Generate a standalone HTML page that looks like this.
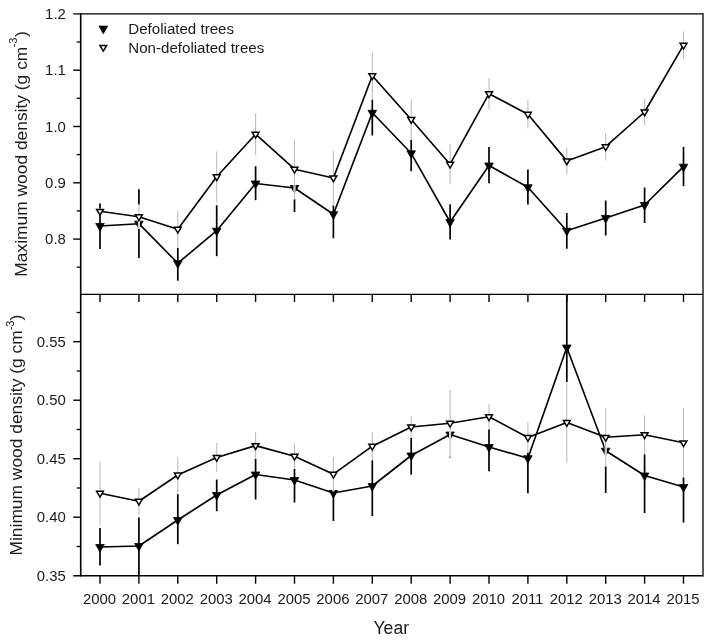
<!DOCTYPE html>
<html><head><meta charset="utf-8"><title>Wood density</title>
<style>html,body{margin:0;padding:0;background:#fff}svg{display:block}text{font-family:"Liberation Sans",Arial,sans-serif}</style>
</head><body>
<svg width="708" height="640" viewBox="0 0 708 640">
<rect x="0" y="0" width="708" height="640" fill="#fff"/>
<g><line x1="100.0" x2="100.0" y1="203.5" y2="208.8" stroke="#000" stroke-width="1.7"/>
<line x1="100.0" x2="100.0" y1="213.8" y2="249.0" stroke="#000" stroke-width="1.7"/>
<line x1="138.9" x2="138.9" y1="189.3" y2="204.7" stroke="#000" stroke-width="1.7"/>
<line x1="138.9" x2="138.9" y1="228.7" y2="258.0" stroke="#000" stroke-width="1.7"/>
<line x1="177.8" x2="177.8" y1="247.9" y2="280.7" stroke="#000" stroke-width="1.7"/>
<line x1="216.7" x2="216.7" y1="205.2" y2="256.2" stroke="#000" stroke-width="1.7"/>
<line x1="255.6" x2="255.6" y1="166.2" y2="200.2" stroke="#000" stroke-width="1.7"/>
<line x1="294.5" x2="294.5" y1="199.2" y2="212.0" stroke="#000" stroke-width="1.7"/>
<line x1="333.4" x2="333.4" y1="205.3" y2="238.2" stroke="#000" stroke-width="1.7"/>
<line x1="372.3" x2="372.3" y1="99.4" y2="135.5" stroke="#000" stroke-width="1.7"/>
<line x1="411.2" x2="411.2" y1="139.5" y2="171.2" stroke="#000" stroke-width="1.7"/>
<line x1="450.1" x2="450.1" y1="204.2" y2="239.5" stroke="#000" stroke-width="1.7"/>
<line x1="489.0" x2="489.0" y1="147.0" y2="183.3" stroke="#000" stroke-width="1.7"/>
<line x1="527.9" x2="527.9" y1="169.5" y2="204.5" stroke="#000" stroke-width="1.7"/>
<line x1="566.8" x2="566.8" y1="213.1" y2="248.7" stroke="#000" stroke-width="1.7"/>
<line x1="605.7" x2="605.7" y1="200.5" y2="235.5" stroke="#000" stroke-width="1.7"/>
<line x1="644.6" x2="644.6" y1="187.5" y2="223.0" stroke="#000" stroke-width="1.7"/>
<line x1="683.5" x2="683.5" y1="147.0" y2="186.2" stroke="#000" stroke-width="1.7"/>
<polyline fill="none" stroke="#000" stroke-width="1.65" stroke-linejoin="round" points="100.0,226.0 138.9,223.7 177.8,263.2 216.7,230.7 255.6,183.5 294.5,188.0 333.4,214.2 372.3,112.8 411.2,153.3 450.1,222.0 489.0,165.5 527.9,187.2 566.8,230.7 605.7,218.0 644.6,205.0 683.5,166.7"/>
<polygon points="95.7,223.5 104.3,223.5 100.0,231.1" fill="#000" stroke="#000" stroke-width="0.8"/>
<polygon points="134.6,221.2 143.2,221.2 138.9,228.8" fill="#000" stroke="#000" stroke-width="0.8"/>
<polygon points="173.5,260.7 182.1,260.7 177.8,268.3" fill="#000" stroke="#000" stroke-width="0.8"/>
<polygon points="212.4,228.2 221.0,228.2 216.7,235.8" fill="#000" stroke="#000" stroke-width="0.8"/>
<polygon points="251.3,181.0 259.9,181.0 255.6,188.6" fill="#000" stroke="#000" stroke-width="0.8"/>
<polygon points="290.2,185.5 298.8,185.5 294.5,193.1" fill="#000" stroke="#000" stroke-width="0.8"/>
<polygon points="329.1,211.7 337.7,211.7 333.4,219.3" fill="#000" stroke="#000" stroke-width="0.8"/>
<polygon points="368.0,110.3 376.6,110.3 372.3,117.9" fill="#000" stroke="#000" stroke-width="0.8"/>
<polygon points="406.9,150.8 415.5,150.8 411.2,158.4" fill="#000" stroke="#000" stroke-width="0.8"/>
<polygon points="445.8,219.5 454.4,219.5 450.1,227.1" fill="#000" stroke="#000" stroke-width="0.8"/>
<polygon points="484.7,163.0 493.3,163.0 489.0,170.6" fill="#000" stroke="#000" stroke-width="0.8"/>
<polygon points="523.6,184.7 532.2,184.7 527.9,192.3" fill="#000" stroke="#000" stroke-width="0.8"/>
<polygon points="562.5,228.2 571.1,228.2 566.8,235.8" fill="#000" stroke="#000" stroke-width="0.8"/>
<polygon points="601.4,215.5 610.0,215.5 605.7,223.1" fill="#000" stroke="#000" stroke-width="0.8"/>
<polygon points="640.3,202.5 648.9,202.5 644.6,210.1" fill="#000" stroke="#000" stroke-width="0.8"/>
<polygon points="679.2,164.2 687.8,164.2 683.5,171.8" fill="#000" stroke="#000" stroke-width="0.8"/>
<line x1="100.0" x2="100.0" y1="208.8" y2="213.8" stroke="#fff" stroke-width="2.1"/>
<line x1="100.0" x2="100.0" y1="208.8" y2="213.8" stroke="#bababa" stroke-width="1.05"/>
<line x1="138.9" x2="138.9" y1="204.7" y2="228.7" stroke="#fff" stroke-width="2.1"/>
<line x1="138.9" x2="138.9" y1="204.7" y2="228.7" stroke="#bababa" stroke-width="1.05"/>
<line x1="177.8" x2="177.8" y1="210.4" y2="247.9" stroke="#fff" stroke-width="2.1"/>
<line x1="177.8" x2="177.8" y1="210.4" y2="247.9" stroke="#bababa" stroke-width="1.05"/>
<line x1="216.7" x2="216.7" y1="151.2" y2="202.2" stroke="#fff" stroke-width="2.1"/>
<line x1="216.7" x2="216.7" y1="151.2" y2="202.2" stroke="#bababa" stroke-width="1.05"/>
<line x1="255.6" x2="255.6" y1="113.2" y2="155.2" stroke="#fff" stroke-width="2.1"/>
<line x1="255.6" x2="255.6" y1="113.2" y2="155.2" stroke="#bababa" stroke-width="1.05"/>
<line x1="294.5" x2="294.5" y1="139.2" y2="199.2" stroke="#fff" stroke-width="2.1"/>
<line x1="294.5" x2="294.5" y1="139.2" y2="199.2" stroke="#bababa" stroke-width="1.05"/>
<line x1="333.4" x2="333.4" y1="150.7" y2="205.3" stroke="#fff" stroke-width="2.1"/>
<line x1="333.4" x2="333.4" y1="150.7" y2="205.3" stroke="#bababa" stroke-width="1.05"/>
<line x1="372.3" x2="372.3" y1="52.0" y2="99.4" stroke="#fff" stroke-width="2.1"/>
<line x1="372.3" x2="372.3" y1="52.0" y2="99.4" stroke="#bababa" stroke-width="1.05"/>
<line x1="411.2" x2="411.2" y1="99.5" y2="139.5" stroke="#fff" stroke-width="2.1"/>
<line x1="411.2" x2="411.2" y1="99.5" y2="139.5" stroke="#bababa" stroke-width="1.05"/>
<line x1="450.1" x2="450.1" y1="144.2" y2="184.2" stroke="#fff" stroke-width="2.1"/>
<line x1="450.1" x2="450.1" y1="144.2" y2="184.2" stroke="#bababa" stroke-width="1.05"/>
<line x1="489.0" x2="489.0" y1="78.0" y2="109.4" stroke="#fff" stroke-width="2.1"/>
<line x1="489.0" x2="489.0" y1="78.0" y2="109.4" stroke="#bababa" stroke-width="1.05"/>
<line x1="527.9" x2="527.9" y1="100.0" y2="128.4" stroke="#fff" stroke-width="2.1"/>
<line x1="527.9" x2="527.9" y1="100.0" y2="128.4" stroke="#bababa" stroke-width="1.05"/>
<line x1="566.8" x2="566.8" y1="147.6" y2="174.2" stroke="#fff" stroke-width="2.1"/>
<line x1="566.8" x2="566.8" y1="147.6" y2="174.2" stroke="#bababa" stroke-width="1.05"/>
<line x1="605.7" x2="605.7" y1="133.0" y2="160.4" stroke="#fff" stroke-width="2.1"/>
<line x1="605.7" x2="605.7" y1="133.0" y2="160.4" stroke="#bababa" stroke-width="1.05"/>
<line x1="644.6" x2="644.6" y1="99.0" y2="125.0" stroke="#fff" stroke-width="2.1"/>
<line x1="644.6" x2="644.6" y1="99.0" y2="125.0" stroke="#bababa" stroke-width="1.05"/>
<line x1="683.5" x2="683.5" y1="31.2" y2="59.2" stroke="#fff" stroke-width="2.1"/>
<line x1="683.5" x2="683.5" y1="31.2" y2="59.2" stroke="#bababa" stroke-width="1.05"/>
<polyline fill="none" stroke="#000" stroke-width="1.65" stroke-linejoin="round" points="100.0,211.3 138.9,216.7 177.8,229.2 216.7,176.7 255.6,134.2 294.5,169.2 333.4,178.0 372.3,75.7 411.2,119.5 450.1,164.2 489.0,93.7 527.9,114.2 566.8,160.9 605.7,146.7 644.6,112.0 683.5,45.2"/>
<polygon points="96.60,209.40 103.40,209.40 100.00,215.15" fill="#fff" stroke="#000" stroke-width="1.5" stroke-linejoin="miter"/>
<polygon points="135.50,214.80 142.30,214.80 138.90,220.55" fill="#fff" stroke="#000" stroke-width="1.5" stroke-linejoin="miter"/>
<polygon points="174.40,227.30 181.20,227.30 177.80,233.05" fill="#fff" stroke="#000" stroke-width="1.5" stroke-linejoin="miter"/>
<polygon points="213.30,174.80 220.10,174.80 216.70,180.55" fill="#fff" stroke="#000" stroke-width="1.5" stroke-linejoin="miter"/>
<polygon points="252.20,132.30 259.00,132.30 255.60,138.05" fill="#fff" stroke="#000" stroke-width="1.5" stroke-linejoin="miter"/>
<polygon points="291.10,167.30 297.90,167.30 294.50,173.05" fill="#fff" stroke="#000" stroke-width="1.5" stroke-linejoin="miter"/>
<polygon points="330.00,176.10 336.80,176.10 333.40,181.85" fill="#fff" stroke="#000" stroke-width="1.5" stroke-linejoin="miter"/>
<polygon points="368.90,73.80 375.70,73.80 372.30,79.55" fill="#fff" stroke="#000" stroke-width="1.5" stroke-linejoin="miter"/>
<polygon points="407.80,117.60 414.60,117.60 411.20,123.35" fill="#fff" stroke="#000" stroke-width="1.5" stroke-linejoin="miter"/>
<polygon points="446.70,162.30 453.50,162.30 450.10,168.05" fill="#fff" stroke="#000" stroke-width="1.5" stroke-linejoin="miter"/>
<polygon points="485.60,91.80 492.40,91.80 489.00,97.55" fill="#fff" stroke="#000" stroke-width="1.5" stroke-linejoin="miter"/>
<polygon points="524.50,112.30 531.30,112.30 527.90,118.05" fill="#fff" stroke="#000" stroke-width="1.5" stroke-linejoin="miter"/>
<polygon points="563.40,159.00 570.20,159.00 566.80,164.75" fill="#fff" stroke="#000" stroke-width="1.5" stroke-linejoin="miter"/>
<polygon points="602.30,144.80 609.10,144.80 605.70,150.55" fill="#fff" stroke="#000" stroke-width="1.5" stroke-linejoin="miter"/>
<polygon points="641.20,110.10 648.00,110.10 644.60,115.85" fill="#fff" stroke="#000" stroke-width="1.5" stroke-linejoin="miter"/>
<polygon points="680.10,43.30 686.90,43.30 683.50,49.05" fill="#fff" stroke="#000" stroke-width="1.5" stroke-linejoin="miter"/></g>
<g><line x1="100.0" x2="100.0" y1="528.0" y2="565.5" stroke="#000" stroke-width="1.7"/>
<line x1="138.9" x2="138.9" y1="517.5" y2="575.0" stroke="#000" stroke-width="1.7"/>
<line x1="177.8" x2="177.8" y1="494.2" y2="544.2" stroke="#000" stroke-width="1.7"/>
<line x1="216.7" x2="216.7" y1="479.5" y2="511.2" stroke="#000" stroke-width="1.7"/>
<line x1="255.6" x2="255.6" y1="458.9" y2="499.5" stroke="#000" stroke-width="1.7"/>
<line x1="294.5" x2="294.5" y1="468.7" y2="502.5" stroke="#000" stroke-width="1.7"/>
<line x1="333.4" x2="333.4" y1="491.4" y2="521.0" stroke="#000" stroke-width="1.7"/>
<line x1="372.3" x2="372.3" y1="460.2" y2="516.0" stroke="#000" stroke-width="1.7"/>
<line x1="411.2" x2="411.2" y1="437.8" y2="474.7" stroke="#000" stroke-width="1.7"/>
<line x1="450.1" x2="450.1" y1="456.4" y2="457.5" stroke="#000" stroke-width="1.7"/>
<line x1="489.0" x2="489.0" y1="429.2" y2="471.2" stroke="#000" stroke-width="1.7"/>
<line x1="527.9" x2="527.9" y1="452.5" y2="493.2" stroke="#000" stroke-width="1.7"/>
<line x1="566.8" x2="566.8" y1="294.0" y2="382.0" stroke="#000" stroke-width="1.7"/>
<line x1="605.7" x2="605.7" y1="466.3" y2="493.0" stroke="#000" stroke-width="1.7"/>
<line x1="644.6" x2="644.6" y1="454.2" y2="513.0" stroke="#000" stroke-width="1.7"/>
<line x1="683.5" x2="683.5" y1="477.3" y2="522.5" stroke="#000" stroke-width="1.7"/>
<polyline fill="none" stroke="#000" stroke-width="1.65" stroke-linejoin="round" points="100.0,547.0 138.9,546.0 177.8,520.0 216.7,495.0 255.6,474.5 294.5,480.0 333.4,493.0 372.3,486.0 411.2,455.5 450.1,434.5 489.0,447.0 527.9,458.2 566.8,347.5 605.7,450.7 644.6,475.5 683.5,487.0"/>
<polygon points="95.7,544.5 104.3,544.5 100.0,552.1" fill="#000" stroke="#000" stroke-width="0.8"/>
<polygon points="134.6,543.5 143.2,543.5 138.9,551.1" fill="#000" stroke="#000" stroke-width="0.8"/>
<polygon points="173.5,517.5 182.1,517.5 177.8,525.1" fill="#000" stroke="#000" stroke-width="0.8"/>
<polygon points="212.4,492.5 221.0,492.5 216.7,500.1" fill="#000" stroke="#000" stroke-width="0.8"/>
<polygon points="251.3,472.0 259.9,472.0 255.6,479.6" fill="#000" stroke="#000" stroke-width="0.8"/>
<polygon points="290.2,477.5 298.8,477.5 294.5,485.1" fill="#000" stroke="#000" stroke-width="0.8"/>
<polygon points="329.1,490.5 337.7,490.5 333.4,498.1" fill="#000" stroke="#000" stroke-width="0.8"/>
<polygon points="368.0,483.5 376.6,483.5 372.3,491.1" fill="#000" stroke="#000" stroke-width="0.8"/>
<polygon points="406.9,453.0 415.5,453.0 411.2,460.6" fill="#000" stroke="#000" stroke-width="0.8"/>
<polygon points="445.8,432.0 454.4,432.0 450.1,439.6" fill="#000" stroke="#000" stroke-width="0.8"/>
<polygon points="484.7,444.5 493.3,444.5 489.0,452.1" fill="#000" stroke="#000" stroke-width="0.8"/>
<polygon points="523.6,455.7 532.2,455.7 527.9,463.3" fill="#000" stroke="#000" stroke-width="0.8"/>
<polygon points="562.5,345.0 571.1,345.0 566.8,352.6" fill="#000" stroke="#000" stroke-width="0.8"/>
<polygon points="601.4,448.2 610.0,448.2 605.7,455.8" fill="#000" stroke="#000" stroke-width="0.8"/>
<polygon points="640.3,473.0 648.9,473.0 644.6,480.6" fill="#000" stroke="#000" stroke-width="0.8"/>
<polygon points="679.2,484.5 687.8,484.5 683.5,492.1" fill="#000" stroke="#000" stroke-width="0.8"/>
<line x1="100.0" x2="100.0" y1="461.2" y2="525.2" stroke="#fff" stroke-width="2.1"/>
<line x1="100.0" x2="100.0" y1="461.2" y2="525.2" stroke="#bababa" stroke-width="1.05"/>
<line x1="138.9" x2="138.9" y1="488.0" y2="514.4" stroke="#fff" stroke-width="2.1"/>
<line x1="138.9" x2="138.9" y1="488.0" y2="514.4" stroke="#bababa" stroke-width="1.05"/>
<line x1="177.8" x2="177.8" y1="457.0" y2="493.0" stroke="#fff" stroke-width="2.1"/>
<line x1="177.8" x2="177.8" y1="457.0" y2="493.0" stroke="#bababa" stroke-width="1.05"/>
<line x1="216.7" x2="216.7" y1="443.0" y2="472.0" stroke="#fff" stroke-width="2.1"/>
<line x1="216.7" x2="216.7" y1="443.0" y2="472.0" stroke="#bababa" stroke-width="1.05"/>
<line x1="255.6" x2="255.6" y1="432.3" y2="458.9" stroke="#fff" stroke-width="2.1"/>
<line x1="255.6" x2="255.6" y1="432.3" y2="458.9" stroke="#bababa" stroke-width="1.05"/>
<line x1="294.5" x2="294.5" y1="443.7" y2="468.7" stroke="#fff" stroke-width="2.1"/>
<line x1="294.5" x2="294.5" y1="443.7" y2="468.7" stroke="#bababa" stroke-width="1.05"/>
<line x1="333.4" x2="333.4" y1="457.0" y2="491.4" stroke="#fff" stroke-width="2.1"/>
<line x1="333.4" x2="333.4" y1="457.0" y2="491.4" stroke="#bababa" stroke-width="1.05"/>
<line x1="372.3" x2="372.3" y1="432.2" y2="460.2" stroke="#fff" stroke-width="2.1"/>
<line x1="372.3" x2="372.3" y1="432.2" y2="460.2" stroke="#bababa" stroke-width="1.05"/>
<line x1="411.2" x2="411.2" y1="416.2" y2="437.8" stroke="#fff" stroke-width="2.1"/>
<line x1="411.2" x2="411.2" y1="416.2" y2="437.8" stroke="#bababa" stroke-width="1.05"/>
<line x1="450.1" x2="450.1" y1="390.0" y2="456.4" stroke="#fff" stroke-width="2.1"/>
<line x1="450.1" x2="450.1" y1="390.0" y2="456.4" stroke="#bababa" stroke-width="1.05"/>
<line x1="489.0" x2="489.0" y1="404.2" y2="429.2" stroke="#fff" stroke-width="2.1"/>
<line x1="489.0" x2="489.0" y1="404.2" y2="429.2" stroke="#bababa" stroke-width="1.05"/>
<line x1="527.9" x2="527.9" y1="422.5" y2="452.5" stroke="#fff" stroke-width="2.1"/>
<line x1="527.9" x2="527.9" y1="422.5" y2="452.5" stroke="#bababa" stroke-width="1.05"/>
<line x1="566.8" x2="566.8" y1="382.5" y2="462.5" stroke="#fff" stroke-width="2.1"/>
<line x1="566.8" x2="566.8" y1="382.5" y2="462.5" stroke="#bababa" stroke-width="1.05"/>
<line x1="605.7" x2="605.7" y1="408.3" y2="466.3" stroke="#fff" stroke-width="2.1"/>
<line x1="605.7" x2="605.7" y1="408.3" y2="466.3" stroke="#bababa" stroke-width="1.05"/>
<line x1="644.6" x2="644.6" y1="415.2" y2="454.2" stroke="#fff" stroke-width="2.1"/>
<line x1="644.6" x2="644.6" y1="415.2" y2="454.2" stroke="#bababa" stroke-width="1.05"/>
<line x1="683.5" x2="683.5" y1="408.3" y2="477.3" stroke="#fff" stroke-width="2.1"/>
<line x1="683.5" x2="683.5" y1="408.3" y2="477.3" stroke="#bababa" stroke-width="1.05"/>
<polyline fill="none" stroke="#000" stroke-width="1.65" stroke-linejoin="round" points="100.0,493.2 138.9,501.2 177.8,475.0 216.7,457.5 255.6,445.6 294.5,456.2 333.4,474.2 372.3,446.2 411.2,427.0 450.1,423.2 489.0,416.7 527.9,437.5 566.8,422.5 605.7,437.3 644.6,434.7 683.5,442.8"/>
<polygon points="96.60,491.30 103.40,491.30 100.00,497.05" fill="#fff" stroke="#000" stroke-width="1.5" stroke-linejoin="miter"/>
<polygon points="135.50,499.30 142.30,499.30 138.90,505.05" fill="#fff" stroke="#000" stroke-width="1.5" stroke-linejoin="miter"/>
<polygon points="174.40,473.10 181.20,473.10 177.80,478.85" fill="#fff" stroke="#000" stroke-width="1.5" stroke-linejoin="miter"/>
<polygon points="213.30,455.60 220.10,455.60 216.70,461.35" fill="#fff" stroke="#000" stroke-width="1.5" stroke-linejoin="miter"/>
<polygon points="252.20,443.70 259.00,443.70 255.60,449.45" fill="#fff" stroke="#000" stroke-width="1.5" stroke-linejoin="miter"/>
<polygon points="291.10,454.30 297.90,454.30 294.50,460.05" fill="#fff" stroke="#000" stroke-width="1.5" stroke-linejoin="miter"/>
<polygon points="330.00,472.30 336.80,472.30 333.40,478.05" fill="#fff" stroke="#000" stroke-width="1.5" stroke-linejoin="miter"/>
<polygon points="368.90,444.30 375.70,444.30 372.30,450.05" fill="#fff" stroke="#000" stroke-width="1.5" stroke-linejoin="miter"/>
<polygon points="407.80,425.10 414.60,425.10 411.20,430.85" fill="#fff" stroke="#000" stroke-width="1.5" stroke-linejoin="miter"/>
<polygon points="446.70,421.30 453.50,421.30 450.10,427.05" fill="#fff" stroke="#000" stroke-width="1.5" stroke-linejoin="miter"/>
<polygon points="485.60,414.80 492.40,414.80 489.00,420.55" fill="#fff" stroke="#000" stroke-width="1.5" stroke-linejoin="miter"/>
<polygon points="524.50,435.60 531.30,435.60 527.90,441.35" fill="#fff" stroke="#000" stroke-width="1.5" stroke-linejoin="miter"/>
<polygon points="563.40,420.60 570.20,420.60 566.80,426.35" fill="#fff" stroke="#000" stroke-width="1.5" stroke-linejoin="miter"/>
<polygon points="602.30,435.40 609.10,435.40 605.70,441.15" fill="#fff" stroke="#000" stroke-width="1.5" stroke-linejoin="miter"/>
<polygon points="641.20,432.80 648.00,432.80 644.60,438.55" fill="#fff" stroke="#000" stroke-width="1.5" stroke-linejoin="miter"/>
<polygon points="680.10,440.90 686.90,440.90 683.50,446.65" fill="#fff" stroke="#000" stroke-width="1.5" stroke-linejoin="miter"/></g>
<line x1="80.7" x2="80.7" y1="13.200000000000001" y2="576.4000000000001" stroke="#000" stroke-width="1.6"/>
<line x1="703" x2="703" y1="13.200000000000001" y2="576.4000000000001" stroke="#000" stroke-width="1.3"/>
<line x1="73.2" x2="703" y1="13.9" y2="13.9" stroke="#000" stroke-width="1.4"/>
<line x1="80.7" x2="703" y1="294.4" y2="294.4" stroke="#000" stroke-width="1.4"/>
<line x1="73.2" x2="703" y1="575.7" y2="575.7" stroke="#000" stroke-width="1.4"/>
<g><line x1="76.7" x2="80.7" y1="42.0" y2="42.0" stroke="#000" stroke-width="1.3"/>
<line x1="73.2" x2="80.7" y1="70.2" y2="70.2" stroke="#000" stroke-width="1.4"/>
<line x1="76.7" x2="80.7" y1="98.3" y2="98.3" stroke="#000" stroke-width="1.3"/>
<line x1="73.2" x2="80.7" y1="126.5" y2="126.5" stroke="#000" stroke-width="1.4"/>
<line x1="76.7" x2="80.7" y1="154.6" y2="154.6" stroke="#000" stroke-width="1.3"/>
<line x1="73.2" x2="80.7" y1="182.8" y2="182.8" stroke="#000" stroke-width="1.4"/>
<line x1="76.7" x2="80.7" y1="210.9" y2="210.9" stroke="#000" stroke-width="1.3"/>
<line x1="73.2" x2="80.7" y1="239.1" y2="239.1" stroke="#000" stroke-width="1.4"/>
<line x1="76.7" x2="80.7" y1="267.2" y2="267.2" stroke="#000" stroke-width="1.3"/>
<line x1="76.7" x2="80.7" y1="546.5" y2="546.5" stroke="#000" stroke-width="1.3"/>
<line x1="73.2" x2="80.7" y1="517.2" y2="517.2" stroke="#000" stroke-width="1.4"/>
<line x1="76.7" x2="80.7" y1="488.0" y2="488.0" stroke="#000" stroke-width="1.3"/>
<line x1="73.2" x2="80.7" y1="458.7" y2="458.7" stroke="#000" stroke-width="1.4"/>
<line x1="76.7" x2="80.7" y1="429.5" y2="429.5" stroke="#000" stroke-width="1.3"/>
<line x1="73.2" x2="80.7" y1="400.2" y2="400.2" stroke="#000" stroke-width="1.4"/>
<line x1="76.7" x2="80.7" y1="371.0" y2="371.0" stroke="#000" stroke-width="1.3"/>
<line x1="73.2" x2="80.7" y1="341.7" y2="341.7" stroke="#000" stroke-width="1.4"/>
<line x1="76.7" x2="80.7" y1="312.5" y2="312.5" stroke="#000" stroke-width="1.3"/>
<line x1="100.0" x2="100.0" y1="294.4" y2="301.9" stroke="#000" stroke-width="1.4"/>
<line x1="100.0" x2="100.0" y1="575.7" y2="583.7" stroke="#000" stroke-width="1.4"/>
<line x1="138.9" x2="138.9" y1="294.4" y2="301.9" stroke="#000" stroke-width="1.4"/>
<line x1="138.9" x2="138.9" y1="575.7" y2="583.7" stroke="#000" stroke-width="1.4"/>
<line x1="177.8" x2="177.8" y1="294.4" y2="301.9" stroke="#000" stroke-width="1.4"/>
<line x1="177.8" x2="177.8" y1="575.7" y2="583.7" stroke="#000" stroke-width="1.4"/>
<line x1="216.7" x2="216.7" y1="294.4" y2="301.9" stroke="#000" stroke-width="1.4"/>
<line x1="216.7" x2="216.7" y1="575.7" y2="583.7" stroke="#000" stroke-width="1.4"/>
<line x1="255.6" x2="255.6" y1="294.4" y2="301.9" stroke="#000" stroke-width="1.4"/>
<line x1="255.6" x2="255.6" y1="575.7" y2="583.7" stroke="#000" stroke-width="1.4"/>
<line x1="294.5" x2="294.5" y1="294.4" y2="301.9" stroke="#000" stroke-width="1.4"/>
<line x1="294.5" x2="294.5" y1="575.7" y2="583.7" stroke="#000" stroke-width="1.4"/>
<line x1="333.4" x2="333.4" y1="294.4" y2="301.9" stroke="#000" stroke-width="1.4"/>
<line x1="333.4" x2="333.4" y1="575.7" y2="583.7" stroke="#000" stroke-width="1.4"/>
<line x1="372.3" x2="372.3" y1="294.4" y2="301.9" stroke="#000" stroke-width="1.4"/>
<line x1="372.3" x2="372.3" y1="575.7" y2="583.7" stroke="#000" stroke-width="1.4"/>
<line x1="411.2" x2="411.2" y1="294.4" y2="301.9" stroke="#000" stroke-width="1.4"/>
<line x1="411.2" x2="411.2" y1="575.7" y2="583.7" stroke="#000" stroke-width="1.4"/>
<line x1="450.1" x2="450.1" y1="294.4" y2="301.9" stroke="#000" stroke-width="1.4"/>
<line x1="450.1" x2="450.1" y1="575.7" y2="583.7" stroke="#000" stroke-width="1.4"/>
<line x1="489.0" x2="489.0" y1="294.4" y2="301.9" stroke="#000" stroke-width="1.4"/>
<line x1="489.0" x2="489.0" y1="575.7" y2="583.7" stroke="#000" stroke-width="1.4"/>
<line x1="527.9" x2="527.9" y1="294.4" y2="301.9" stroke="#000" stroke-width="1.4"/>
<line x1="527.9" x2="527.9" y1="575.7" y2="583.7" stroke="#000" stroke-width="1.4"/>
<line x1="566.8" x2="566.8" y1="294.4" y2="301.9" stroke="#000" stroke-width="1.4"/>
<line x1="566.8" x2="566.8" y1="575.7" y2="583.7" stroke="#000" stroke-width="1.4"/>
<line x1="605.7" x2="605.7" y1="294.4" y2="301.9" stroke="#000" stroke-width="1.4"/>
<line x1="605.7" x2="605.7" y1="575.7" y2="583.7" stroke="#000" stroke-width="1.4"/>
<line x1="644.6" x2="644.6" y1="294.4" y2="301.9" stroke="#000" stroke-width="1.4"/>
<line x1="644.6" x2="644.6" y1="575.7" y2="583.7" stroke="#000" stroke-width="1.4"/>
<line x1="683.5" x2="683.5" y1="294.4" y2="301.9" stroke="#000" stroke-width="1.4"/>
<line x1="683.5" x2="683.5" y1="575.7" y2="583.7" stroke="#000" stroke-width="1.4"/></g>
<g font-size="14.9" fill="#1a1a1a"><text x="65.8" y="18.9" text-anchor="end">1.2</text>
<text x="65.8" y="75.2" text-anchor="end">1.1</text>
<text x="65.8" y="131.5" text-anchor="end">1.0</text>
<text x="65.8" y="187.8" text-anchor="end">0.9</text>
<text x="65.8" y="244.1" text-anchor="end">0.8</text>
<text x="65.8" y="580.7" text-anchor="end">0.35</text>
<text x="65.8" y="522.2" text-anchor="end">0.40</text>
<text x="65.8" y="463.7" text-anchor="end">0.45</text>
<text x="65.8" y="405.2" text-anchor="end">0.50</text>
<text x="65.8" y="346.7" text-anchor="end">0.55</text>
<text x="99.5" y="603.7" text-anchor="middle">2000</text>
<text x="138.4" y="603.7" text-anchor="middle">2001</text>
<text x="177.3" y="603.7" text-anchor="middle">2002</text>
<text x="216.2" y="603.7" text-anchor="middle">2003</text>
<text x="255.1" y="603.7" text-anchor="middle">2004</text>
<text x="294.0" y="603.7" text-anchor="middle">2005</text>
<text x="332.9" y="603.7" text-anchor="middle">2006</text>
<text x="371.8" y="603.7" text-anchor="middle">2007</text>
<text x="410.7" y="603.7" text-anchor="middle">2008</text>
<text x="449.6" y="603.7" text-anchor="middle">2009</text>
<text x="488.5" y="603.7" text-anchor="middle">2010</text>
<text x="527.4" y="603.7" text-anchor="middle">2011</text>
<text x="566.3" y="603.7" text-anchor="middle">2012</text>
<text x="605.2" y="603.7" text-anchor="middle">2013</text>
<text x="644.1" y="603.7" text-anchor="middle">2014</text>
<text x="683.0" y="603.7" text-anchor="middle">2015</text></g>
<polygon points="99.0,26.1 107.6,26.1 103.3,33.7" fill="#000" stroke="#000" stroke-width="0.8"/>
<polygon points="99.90,45.40 106.70,45.40 103.30,51.15" fill="#fff" stroke="#000" stroke-width="1.5" stroke-linejoin="miter"/>
<g font-size="15.1" fill="#1a1a1a"><text x="128.3" y="33.6">Defoliated trees</text><text x="128.3" y="52.6">Non-defoliated trees</text></g>
<g font-size="17.4" fill="#1a1a1a"><text transform="translate(26.6,276.7) rotate(-90)">Maximum wood density (g cm<tspan font-size="11" dy="-9.4" dx="-0.6">-3</tspan><tspan dy="9.4" dx="0.4">)</tspan></text><text transform="translate(21.5,555.5) rotate(-90)">Minimum wood density (g cm<tspan font-size="11" dy="-7.8">-3</tspan><tspan dy="7.8">)</tspan></text><text x="373.5" y="634" font-size="17.6">Year</text></g>
</svg>
</body></html>
